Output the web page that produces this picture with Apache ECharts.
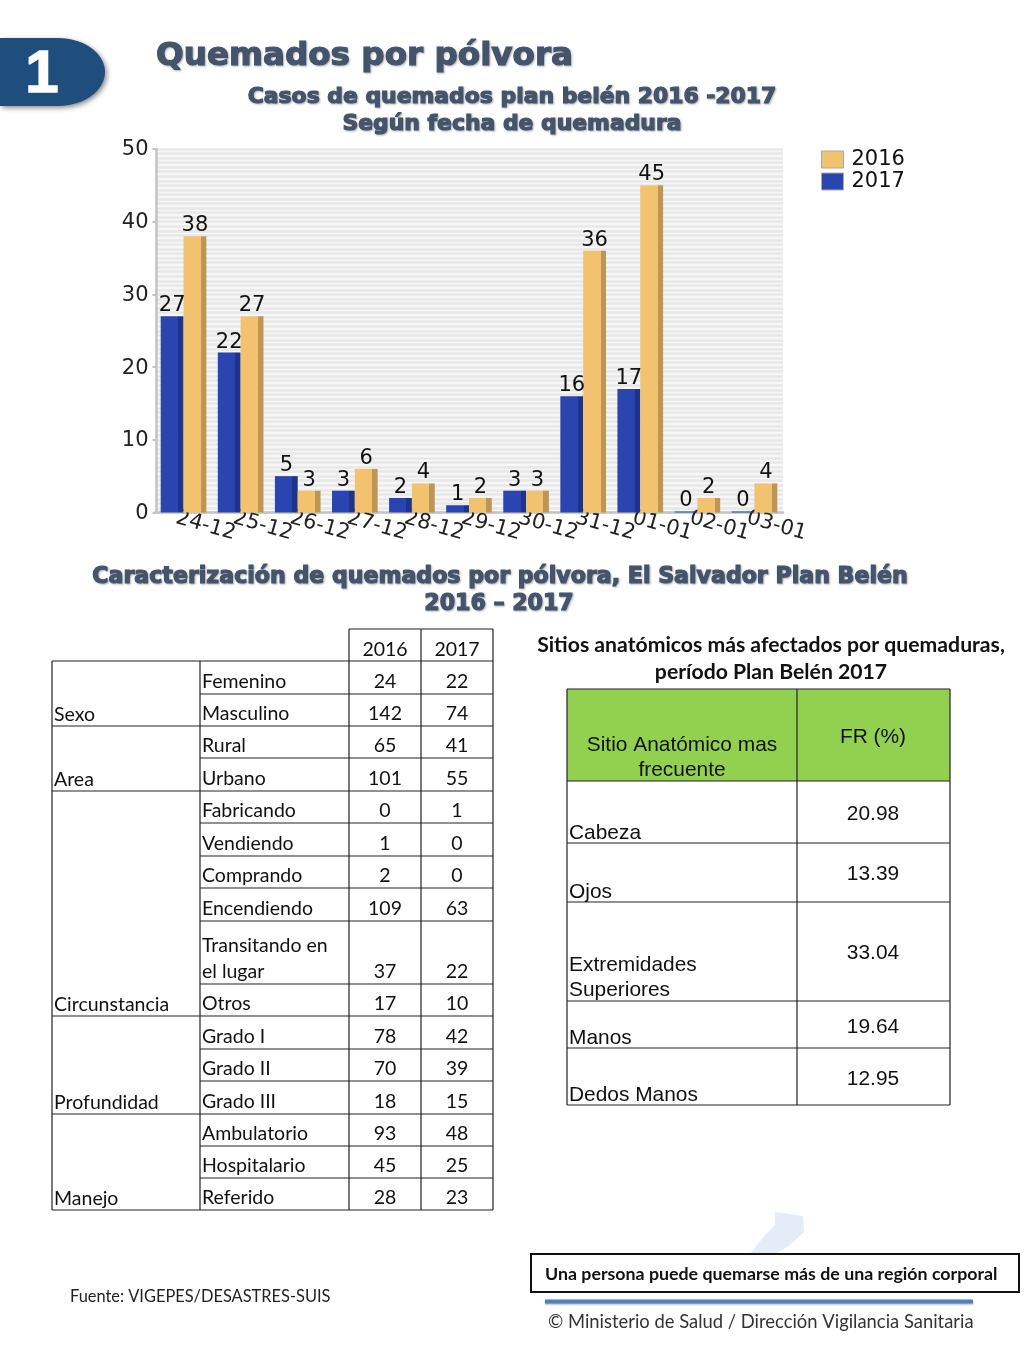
<!DOCTYPE html>
<html><head><meta charset="utf-8">
<style>html,body{margin:0;padding:0;background:#fff}#c{width:1024px;height:1365px}</style>
<script src="https://cdn.jsdelivr.net/npm/echarts@6/dist/echarts.min.js"></script></head>
<body><div id="c"></div>
<script>
const dates = ['24-12','25-12','26-12','27-12','28-12','29-12','30-12','31-12','01-01','02-01','03-01'];
const values2017 = [27,22,5,3,2,1,3,16,17,0,0];
const values2016 = [38,27,3,6,4,2,3,36,45,2,4];
const yTicks = {min:0,max:50,interval:10};

const tableHead = ['2016','2017'];
const groups = ['Sexo','Area','Circunstancia','Profundidad','Manejo'];
const groupSizes = [2,2,6,3,3];
const rowLabels = ['Femenino','Masculino','Rural','Urbano','Fabricando','Vendiendo','Comprando','Encendiendo','Transitando en\nel lugar','Otros','Grado I','Grado II','Grado III','Ambulatorio','Hospitalario','Referido'];
const col2016 = [24,142,65,101,0,1,2,109,37,17,78,70,18,93,45,28];
const col2017 = [22,74,41,55,1,0,0,63,22,10,42,39,15,48,25,23];

const siteHead = ['Sitio Anatómico mas\nfrecuente','FR (%)'];
const sites = ['Cabeza','Ojos','Extremidades\nSuperiores','Manos','Dedos Manos'];
const siteValues = ['20.98','13.39','33.04','19.64','12.95'];

// layout
const L_X = [52,200,349,421,493];
const L_Y = [661,694,726,758,791,823,856,888,921,984,1016,1049,1081,1114,1146,1178,1210];
const R_X = [567,797,950];
const R_Y = [689,781,843,902,1001,1048,1105];
const SITE_VALUE_Y = [814,874,953,1027,1079];
const HEAD = '#44546a';
const BODY = '19.5px Lato';
const g = [];
function T(x,y,text,o){o=o||{};g.push({type:'text',x,y,z:o.z||10,silent:true,style:Object.assign({text,fill:o.fill||'#111',
  font:o.font||BODY,align:o.align||'left',verticalAlign:o.va||'middle',lineHeight:o.lh||25},o.extra||{})});}
function H(x1,x2,y,c,w){g.push({type:'line',z:9,silent:true,shape:{x1,y1:y,x2,y2:y},style:{stroke:c||'#222',lineWidth:w||1.2}});}
function V(x,y1,y2,c,w){g.push({type:'line',z:9,silent:true,shape:{x1:x,y1,x2:x,y2},style:{stroke:c||'#222',lineWidth:w||1.2}});}
function heavy(x,y,text,size,align){T(x,y,text,{font:'bold '+size+'px "DejaVu Sans"',fill:HEAD,align:align||'center',
  extra:{stroke:HEAD,lineWidth:1.2,textShadowColor:'rgba(60,70,90,.35)',textShadowBlur:2,textShadowOffsetX:1,textShadowOffsetY:1}});}

// badge outline: square left side, elliptical right side
const badgePts=[[0,38]];
for(let a=-90;a<=90;a+=6){const t=a*Math.PI/180;badgePts.push([58+47*Math.cos(t),72+34*Math.sin(t)]);}
badgePts.push([0,106]);
g.push({type:'polygon',z:5,silent:true,shape:{points:badgePts},
  style:{fill:'#1f4e7d',shadowColor:'rgba(0,0,0,.45)',shadowBlur:5,shadowOffsetX:2,shadowOffsetY:2}});
T(42,75,'1',{font:'bold 60px "Liberation Sans"',fill:'#fff',align:'center',extra:{stroke:'#fff',lineWidth:1.5}});
heavy(156,57,'Quemados por pólvora',32.6,'left');
heavy(512,97,'Casos de quemados plan belén 2016 -2017',21.9);
heavy(512,124,'Según fecha de quemadura',21.9);
heavy(500,577,'Caracterización de quemados por pólvora, El Salvador Plan Belén',22.1);
heavy(499,604,'2016 – 2017',22.1);

// left table
H(L_X[2],L_X[4],629); V(L_X[2],629,L_Y[0]); V(L_X[3],629,L_Y[0]); V(L_X[4],629,L_Y[0]);
T(385,650,tableHead[0],{align:'center'}); T(457,650,tableHead[1],{align:'center'});
H(L_X[0],L_X[4],L_Y[0]);
L_X.forEach(x=>V(x,L_Y[0],L_Y[L_Y.length-1]));
let r=0;
groups.forEach((name,gi)=>{
  for(let i=0;i<groupSizes[gi];i++,r++){
    const yB=L_Y[r+1];
    H(L_X[1],L_X[4],yB);
    const two=rowLabels[r].includes('\n');
    T(202,two?yB-25:yB-12,rowLabels[r],{lh:26});
    T(385,yB-12,String(col2016[r]),{align:'center'});
    T(457,yB-12,String(col2017[r]),{align:'center'});
  }
  H(L_X[0],L_X[1],L_Y[r]);
  T(54,L_Y[r]-11,name);
});

// right table
T(771,645,'Sitios anatómicos más afectados por quemaduras,',{font:'bold 21.2px Lato',align:'center'});
T(771,672,'período Plan Belén 2017',{font:'bold 21.2px Lato',align:'center'});
g.push({type:'rect',z:8,silent:true,shape:{x:R_X[0],y:R_Y[0],width:R_X[2]-R_X[0],height:R_Y[1]-R_Y[0]},style:{fill:'#92d050'}});
R_Y.forEach(y=>H(R_X[0],R_X[2],y));
R_X.forEach(x=>V(x,R_Y[0],R_Y[R_Y.length-1]));
const A='20.9px "Liberation Sans"';
T(682,758,siteHead[0],{font:A,align:'center'});
T(873,737,siteHead[1],{font:A,align:'center'});
sites.forEach((s,i)=>{const two=s.includes('\n');
  T(569,R_Y[i+2]-(two?23:10),s,{font:A});
  T(873,SITE_VALUE_Y[i],siteValues[i],{font:A,align:'center'});
});

// footer
g.push({type:'polygon',z:1,silent:true,shape:{points:[[775,1212],[803,1216],[804,1232],[790,1245],[775,1254],[750,1254],[765,1235],[775,1225]]},style:{fill:'#e4edf7'}});
g.push({type:'rect',z:3,silent:true,shape:{x:531,y:1254,width:488,height:38},style:{fill:'#fff',stroke:'#111',lineWidth:2}});
T(545,1274,'Una persona puede quemarse más de una región corporal',{font:'bold 17.8px Lato',z:4});
g.push({type:'line',z:3,silent:true,shape:{x1:545,y1:1301.5,x2:973,y2:1301.5},style:{stroke:'#4f81bd',lineWidth:4,shadowColor:'rgba(0,0,0,.35)',shadowBlur:2,shadowOffsetY:1}});
T(548,1322,'© Ministerio de Salud / Dirección Vigilancia Sanitaria',{font:'18.4px Lato',fill:'#333'});
T(70,1297,'Fuente: VIGEPES/DESASTRES-SUIS',{font:'16.4px Lato',fill:'#222'});

const chartFont='"DejaVu Sans"';
const bar=(main,dark)=>({type:'linear',x:0,y:0,x2:1,y2:0,colorStops:[{offset:0,color:main},{offset:.76,color:main},{offset:.76,color:dark},{offset:1,color:dark}]});
const lab={show:true,position:'top',distance:0,color:'#111',fontFamily:chartFont,fontSize:21};
const C17='#2a45b0',C16='#f2c26f';
const chart=echarts.init(document.getElementById('c'));
chart.setOption({
  animation:false,
  grid:{left:155,right:241,top:149,height:363.5,show:true,backgroundColor:'#f7f7f7',borderWidth:0,containLabel:false},
  legend:{orient:'vertical',left:816,top:144,itemWidth:22,itemHeight:17,itemGap:1,selectedMode:false,icon:'rect',
    textStyle:{fontFamily:chartFont,fontSize:21,lineHeight:17,color:'#111',padding:[0,0,0,3]},
    data:[{name:'2016',itemStyle:{color:C16,borderColor:'#aaa',borderWidth:1}},{name:'2017',itemStyle:{color:C17,borderColor:'#aab',borderWidth:1}}]},
  xAxis:{type:'category',data:dates,
    axisLine:{lineStyle:{color:'#c4c4c4',width:2.5}},
    axisTick:{length:3,lineStyle:{color:'#c4c4c4',width:2}},
    axisLabel:{rotate:-16,interval:0,margin:7,align:'center',padding:[0,0,0,46],color:'#222',fontFamily:chartFont,fontSize:21,hideOverlap:false}},
  yAxis:Object.assign({type:'value',offset:-1.5,
    axisLine:{show:true,lineStyle:{color:'#c4c4c4',width:2.5}},
    axisTick:{show:true,length:4,lineStyle:{color:'#c4c4c4',width:2}},
    axisLabel:{margin:8,verticalAlign:'top',lineHeight:2,color:'#222',fontFamily:chartFont,fontSize:21,showMinLabel:true,showMaxLabel:true},
    splitLine:{show:true,lineStyle:{color:'#e8e8e8',width:2.5}},
    minorTick:{show:false,splitNumber:16},
    minorSplitLine:{show:true,lineStyle:{color:'#e8e8e8',width:2.5}}},yTicks),
  series:[
    {name:'2017',type:'bar',data:values2017,barGap:'0%',barCategoryGap:'20%',barMinHeight:1,itemStyle:{color:bar(C17,'#1f3488')},label:lab},
    {name:'2016',type:'bar',data:values2016,itemStyle:{color:bar(C16,'#bd9655')},label:lab}
  ],
  graphic:{elements:g}
});
</script></body></html>
